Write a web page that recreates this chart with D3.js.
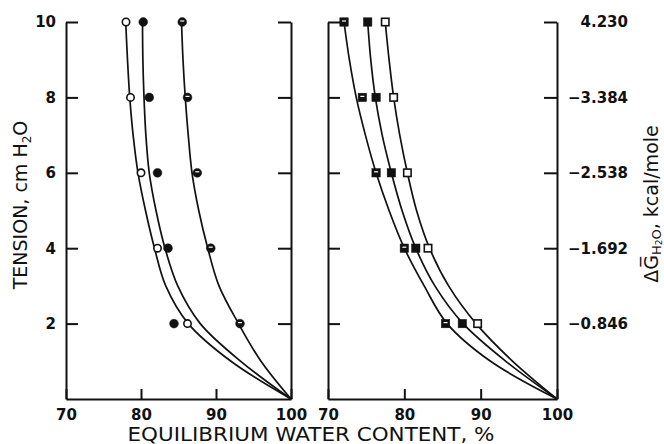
<!DOCTYPE html>
<html>
<head>
<meta charset="utf-8">
<title>Equilibrium water content</title>
<script src="https://cdn.jsdelivr.net/npm/d3@7"></script>
<style type="text/css">
body { margin: 0; background: #fff; }
svg { display: block; }
.tick text { font-family: "DejaVu Sans", sans-serif; font-weight: bold; font-size: 15px; fill: #111; }
.tick line, .domain { stroke: #111; stroke-width: 2; }
.title { font-family: "DejaVu Sans", sans-serif; font-size: 19px; fill: #111; }
.curve { fill: none; stroke: #111; stroke-width: 1.7; }
</style>
</head>
<body>
<script type="text/javascript">
var width = 664, height = 444;

var curveTension = [0, 1, 2, 3, 4, 5, 6, 7, 8, 9, 10];
// left panel curves, water content %
var leftOpenCurve   = [100, 92.0, 86.3, 83.3, 81.8, 80.6, 79.6, 78.95, 78.5, 78.2, 77.96];
var leftFilledCurve = [100, 93.3, 87.9, 84.9, 83.2, 82.0, 81.1, 80.65, 80.4, 80.25, 80.2];
var leftHalfCurve   = [100, 96.0, 93.0, 90.4, 88.9, 87.7, 86.8, 86.3, 85.9, 85.6, 85.4];
// right panel curves
var rightHalfCurve   = [100, 91.3, 85.6, 82.6, 80.0, 78.0, 76.3, 74.9, 73.7, 72.8, 72.1];
var rightFilledCurve = [100, 93.3, 87.7, 84.0, 81.5, 79.7, 78.3, 77.1, 76.2, 75.6, 75.2];
var rightOpenCurve   = [100, 94.2, 89.4, 85.8, 83.3, 81.6, 80.4, 79.4, 78.6, 78.0, 77.5];

// measured points
var pointTension = [2, 4, 6, 8, 10];
var leftOpenPts   = [86.2, 82.2, 80.0, 78.6, 78.0];
var leftFilledPts = [84.4, 83.6, 82.2, 81.1, 80.3];
var leftHalfPts   = [93.2, 89.3, 87.5, 86.2, 85.5];
var rightHalfPts   = [85.4, 80.0, 76.3, 74.5, 72.1];
var rightFilledPts = [87.6, 81.5, 78.3, 76.3, 75.2];
var rightOpenPts   = [89.6, 83.1, 80.4, 78.6, 77.5];

// axis ticks
var xTicks = [70, 80, 90, 100];
var yTicks = [2, 4, 6, 8, 10];
var dgLabels = ["\u22120.846", "\u22121.692", "\u22122.538", "\u22123.384", "4.230"];

var svg = d3.select("body").append("svg")
	.attr("width", width)
	.attr("height", height);

var y = d3.scaleLinear().domain([0, 10]).range([399, 22]);
var xL = d3.scaleLinear().domain([70, 100]).range([66, 291]);
var xR = d3.scaleLinear().domain([70, 100]).range([328, 557]);

function zip(t, v) { return t.map(function(d, i) { return [v[i], d]; }); }

function panel(x, curves, points, shape, leftLabels, rightLabels) {
	var g = svg.append("g");
	// left side
	var la = d3.axisLeft(y).tickValues(yTicks).tickSize(-12).tickSizeOuter(0).tickPadding(10);
	if (!leftLabels) la.tickFormat("");
	g.append("g").attr("transform", "translate(" + x.range()[0] + ",0)").call(la);
	// right side
	var ra = d3.axisRight(y).tickValues(yTicks).tickSize(-13).tickSizeOuter(0).tickPadding(6);
	if (rightLabels) ra.tickFormat(function(d, i) { return rightLabels[i]; });
	else ra.tickFormat("");
	var rg = g.append("g").attr("transform", "translate(" + x.range()[1] + ",0)").call(ra);
	rg.selectAll(".tick text").attr("text-anchor", "end").attr("x", 71);
	// bottom
	g.append("g").attr("transform", "translate(0," + y(0) + ")")
		.call(d3.axisBottom(x).tickValues(xTicks).tickSize(-10).tickSizeOuter(0).tickPadding(10));
	g.selectAll(".domain").attr("fill", "none");

	var line = d3.line()
		.x(function(d) { return x(d[0]); })
		.y(function(d) { return y(d[1]); })
		.curve(d3.curveCatmullRom.alpha(0.5));
	curves.forEach(function(c) {
		g.append("path").attr("class", "curve").attr("d", line(zip(curveTension, c)));
	});

	points.forEach(function(p) {
		var pts = zip(pointTension, p.values);
		var m = g.append("g").selectAll("g").data(pts).join("g")
			.attr("transform", function(d) { return "translate(" + x(d[0]) + "," + y(d[1]) + ")"; });
		if (shape === "circle") {
			m.append("circle")
				.attr("r", p.kind === "open" ? 3.7 : 4.4)
				.attr("fill", p.kind === "open" ? "#fff" : "#111")
				.attr("stroke", "#111")
				.attr("stroke-width", p.kind === "open" ? 1.6 : 0.5);
		} else {
			var s = p.kind === "open" ? 7.4 : 8.4;
			m.append("rect")
				.attr("x", -s / 2).attr("y", -s / 2).attr("width", s).attr("height", s)
				.attr("fill", p.kind === "open" ? "#fff" : "#111")
				.attr("stroke", "#111")
				.attr("stroke-width", p.kind === "open" ? 1.6 : 0.5);
		}
		if (p.kind === "half") {
			m.append("rect").attr("x", -2).attr("y", -1.6).attr("width", 4).attr("height", 1.2).attr("fill", "#fff");
		}
	});
}

panel(xL, [leftOpenCurve, leftFilledCurve, leftHalfCurve], [
	{ kind: "open", values: leftOpenPts },
	{ kind: "filled", values: leftFilledPts },
	{ kind: "half", values: leftHalfPts }
], "circle", true, null);

panel(xR, [rightHalfCurve, rightFilledCurve, rightOpenCurve], [
	{ kind: "half", values: rightHalfPts },
	{ kind: "filled", values: rightFilledPts },
	{ kind: "open", values: rightOpenPts }
], "square", false, dgLabels);

// titles
svg.append("text").attr("class", "title")
	.attr("x", 311).attr("y", 441)
	.attr("text-anchor", "middle")
	.attr("textLength", 367).attr("lengthAdjust", "spacingAndGlyphs")
	.text("EQUILIBRIUM WATER CONTENT, %");

var lt = svg.append("text").attr("class", "title")
	.attr("transform", "translate(27,205) rotate(-90)")
	.attr("text-anchor", "middle");
lt.append("tspan").text("TENSION, cm H");
lt.append("tspan").attr("font-size", 12).attr("dy", 4).text("2");
lt.append("tspan").attr("dy", -4).text("O");

var rt = svg.append("text").attr("class", "title")
	.attr("transform", "translate(658,204) rotate(-90)")
	.attr("text-anchor", "middle");
rt.append("tspan").text("\u0394G\u0305");
rt.append("tspan").attr("font-size", 13).attr("dy", 3).text("H");
rt.append("tspan").attr("font-size", 9).attr("dy", 1).text("2");
rt.append("tspan").attr("font-size", 13).attr("dy", -1).text("O");
rt.append("tspan").attr("dy", -3).text(", kcal/mole");
</script>
</body>
</html>
